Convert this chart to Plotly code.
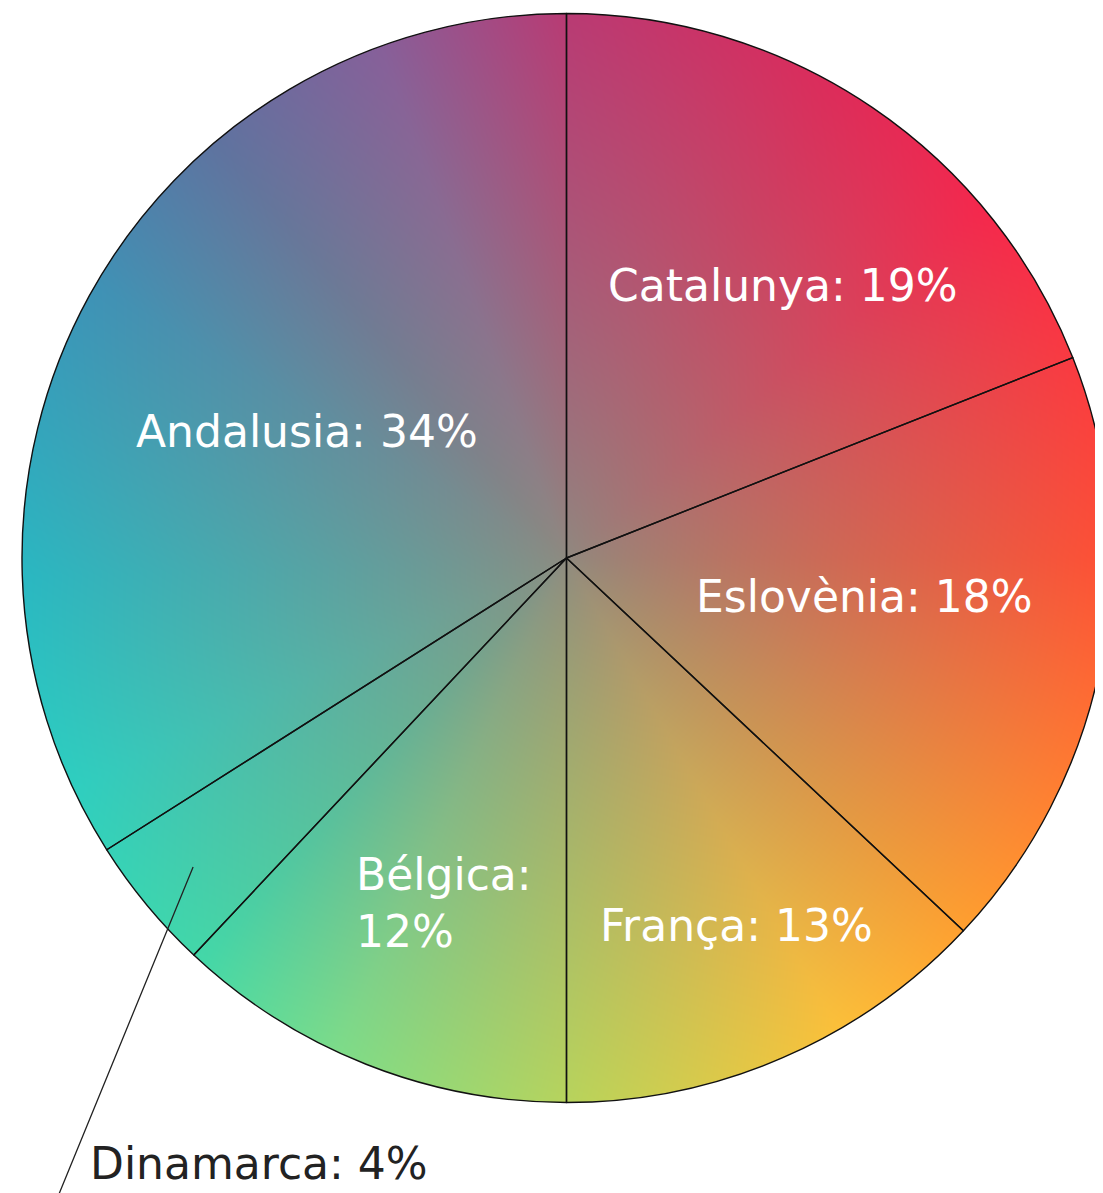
import math, zlib, struct, base64
import numpy as np
import plotly.graph_objects as go

# ---- data ----
labels = ["Catalunya", "Eslovènia", "França", "Bélgica", "Dinamarca", "Andalusia"]
values = [19, 18, 13, 12, 4, 34]
label_text = ["Catalunya: 19%", "Eslovènia: 18%", "França: 13%", "Bélgica:<br>12%",
              "Dinamarca: 4%", "Andalusia: 34%"]
outside = [False, False, False, False, True, False]

# label placement style: (angle offset from slice middle in degrees, radius fraction)
label_place = [(4.2, 0.639), (-3.5, 0.551), (-1.4, 0.744), (-2.0, 0.672), (0.0, 0.89), (-2.9, 0.530)]

# ---- layout geometry (figure pixels) ----
W, H = 1103, 1193
dom_x = [14 / W, 1.0]
dom_y = [98 / H, 1188 / H]

# replicate plotly's pie geometry (margins 0)
aw = W * (dom_x[1] - dom_x[0])
ah = H * (dom_y[1] - dom_y[0])
R = min(aw, ah) / 2
cx = W * (dom_x[0] + dom_x[1]) / 2
cy = H * (1 - dom_y[0]) - ah / 2

# ---- gradient background (conic hue blended to grey centre) ----
stops_deg = [0, 30, 50, 90, 132, 150, 178, 205, 222, 245, 268, 300, 320, 340, 360]
stops_col = ["#b93b74", "#de2c5a", "#f5284d", "#ff5035", "#ff9e30", "#fcc03a",
             "#bcd35a", "#7ddc8a", "#44d8a8", "#2fcfc0", "#2ab8c2", "#3f92b6",
             "#5f73a0", "#87609a", "#b93b74"]
centre_col = "#8f8a80"

def hex2rgb(h):
    h = h.lstrip("#")
    return np.array([int(h[i:i + 2], 16) for i in (0, 2, 4)], dtype=float)

sc = np.array([hex2rgb(c) for c in stops_col])
cc = hex2rgb(centre_col)

yy, xx = np.mgrid[0:H, 0:W].astype(float)
dx = xx + 0.5 - cx
dy = yy + 0.5 - cy
dist = np.sqrt(dx * dx + dy * dy)
ang = (np.degrees(np.arctan2(dx, -dy)) + 360) % 360
rgb = np.stack([np.interp(ang, stops_deg, sc[:, k]) for k in range(3)], axis=-1)
f = np.clip(dist / R, 0, 1)[..., None] ** 0.8
rgb = cc * (1 - f) + rgb * f
alpha = np.clip(R - dist + 0.5, 0, 1) * 255
img = np.concatenate([rgb, alpha[..., None]], axis=-1).clip(0, 255).astype(np.uint8)

def png_bytes(a):
    h, w, _ = a.shape
    raw = b"".join(b"\x00" + a[i].tobytes() for i in range(h))
    def chunk(t, d):
        c = struct.pack(">I", len(d)) + t + d
        return c + struct.pack(">I", zlib.crc32(t + d) & 0xffffffff)
    return (b"\x89PNG\r\n\x1a\n" + chunk(b"IHDR", struct.pack(">IIBBBBB", w, h, 8, 6, 0, 0, 0))
            + chunk(b"IDAT", zlib.compress(raw, 9)) + chunk(b"IEND", b""))

src = "data:image/png;base64," + base64.b64encode(png_bytes(img)).decode()

# ---- figure ----
fig = go.Figure()
fig.add_trace(go.Pie(
    labels=labels, values=values,
    sort=False, direction="clockwise", rotation=0,
    domain=dict(x=dom_x, y=dom_y),
    marker=dict(colors=["rgba(0,0,0,0)"] * len(values), line=dict(color="#111111", width=1.4)),
    textinfo="none",
    hoverinfo="label+percent", showlegend=False,
))

FONT = "DejaVu Sans"
total = sum(values)
acc = 0
for lab, val, txt, out, (da, rf) in zip(labels, values, label_text, outside, label_place):
    mid = (acc + val / 2) / total * 360
    acc += val
    a = math.radians(mid + da)
    px = cx + rf * R * math.sin(a)
    py = cy - rf * R * math.cos(a)
    if not out:
        fig.add_annotation(x=px / W, y=1 - py / H, xref="paper", yref="paper",
                           xanchor="center", yanchor="middle", align="left",
                           showarrow=False, text=txt,
                           font=dict(family=FONT, size=44, color="white"))
    else:
        # leader line from inside the slice down to the outside label
        fig.add_annotation(x=px / W, y=1 - py / H, xref="paper", yref="paper",
                           text=" ", showarrow=True, arrowhead=0, arrowwidth=1.3,
                           arrowcolor="#222222", ax=-137, ay=350, standoff=0)
        fig.add_annotation(x=80 / W, y=1 - 1155 / H, xref="paper", yref="paper",
                           xanchor="left", yanchor="middle", showarrow=False,
                           text=txt, font=dict(family=FONT, size=44, color="#222222"))

fig.add_layout_image(dict(source=src, xref="paper", yref="paper", x=0, y=1,
                          sizex=1, sizey=1, xanchor="left", yanchor="top",
                          sizing="stretch", layer="below"))

fig.update_layout(width=W, height=H, margin=dict(l=0, r=0, t=0, b=0),
                  paper_bgcolor="white", plot_bgcolor="rgba(0,0,0,0)")
fig.write_html("out.html")
